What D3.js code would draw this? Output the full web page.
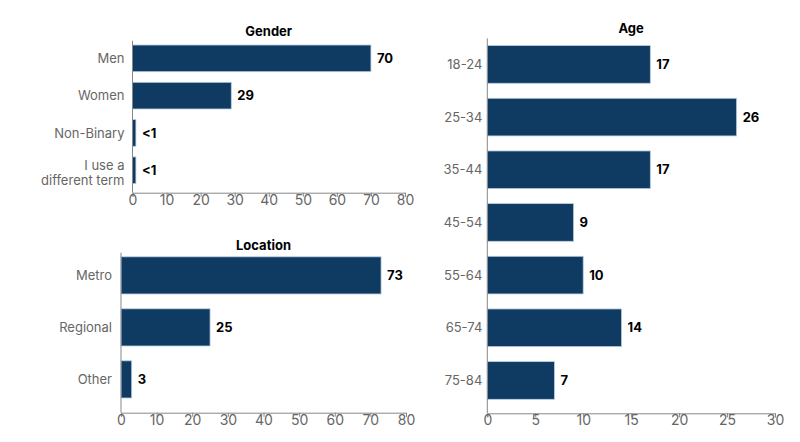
<!DOCTYPE html>
<html>
<head>
<meta charset="utf-8">
<script src="https://cdn.jsdelivr.net/npm/d3@7"></script>
<style>
  body { margin: 0; background: #fff; }
  svg { font-family: Inter, "Noto Sans", sans-serif; }
  .tick text { fill: #666; }
</style>
</head>
<body>
<svg width="800" height="442"></svg>
<script>
// gender panel
let genderCats = ["Men", "Women", "Non-Binary", "I use a\ndifferent term"];
let genderVals = [70, 29, 1, 1];
let genderLabels = ["70", "29", "<1", "<1"];
let genderTicks = [0, 10, 20, 30, 40, 50, 60, 70, 80];

// location panel
let locationCats = ["Metro", "Regional", "Other"];
let locationVals = [73, 25, 3];
let locationLabels = ["73", "25", "3"];
let locationTicks = [0, 10, 20, 30, 40, 50, 60, 70, 80];

// age panel
let ageCats = ["18-24", "25-34", "35-44", "45-54", "55-64", "65-74", "75-84"];
let ageVals = [17, 26, 17, 9, 10, 14, 7];
let ageLabels = ["17", "26", "17", "9", "10", "14", "7"];
let ageTicks = [0, 5, 10, 15, 20, 25, 30];

let svg = d3.select("svg");

function panel(opt) {
    let x = d3.scaleLinear().domain([0, d3.max(opt.ticks)]).range([opt.x0, opt.x1]);
    let y = d3.scaleBand().domain(opt.cats).range(opt.band)
        .paddingInner(0.285).paddingOuter(0.1425);
    let g = svg.append("g");

    g.append("text")
        .attr("x", (opt.x0 + opt.x1) / 2)
        .attr("y", opt.titleY)
        .attr("text-anchor", "middle")
        .attr("font-size", 13)
        .attr("font-weight", "bold")
        .attr("fill", "#000")
        .text(opt.title);

    g.selectAll("rect")
        .data(opt.vals)
        .join("rect")
        .attr("x", x(0))
        .attr("y", (d, i) => y(opt.cats[i]))
        .attr("width", d => x(d) - x(0))
        .attr("height", y.bandwidth())
        .attr("fill", "#0f3a61")
        .attr("stroke", "#b9cde0")
        .attr("stroke-width", 0.8);

    g.selectAll("text.val")
        .data(opt.vals)
        .join("text")
        .attr("class", "val")
        .attr("x", d => x(d) + 6)
        .attr("y", (d, i) => y(opt.cats[i]) + y.bandwidth() / 2)
        .attr("dy", "0.35em")
        .attr("font-size", 13)
        .attr("font-weight", "bold")
        .attr("fill", "#000")
        .text((d, i) => opt.labels[i]);

    // category labels, multi-line ones split on \n
    let cl = g.selectAll("text.cat")
        .data(opt.cats)
        .join("text")
        .attr("class", "cat")
        .attr("x", opt.x0 - opt.gap)
        .attr("y", d => y(d) + y.bandwidth() / 2)
        .attr("text-anchor", "end")
        .attr("font-size", 13)
        .attr("fill", "#666");
    cl.each(function (d) {
        let lines = d.split("\n");
        let t = d3.select(this);
        lines.forEach(function (ln, k) {
            t.append("tspan")
                .attr("x", opt.x0 - opt.gap)
                .attr("dy", k === 0 ? (lines.length > 1 ? "-0.02em" : "0.35em") : "1.18em")
                .text(ln);
        });
    });

    // y axis line
    g.append("line")
        .attr("x1", x(0)).attr("x2", x(0))
        .attr("y1", opt.y0).attr("y2", opt.y1)
        .attr("stroke", "#888");

    let ax = g.append("g")
        .attr("transform", "translate(0," + opt.y1 + ")")
        .call(d3.axisBottom(x).tickValues(opt.ticks).tickSize(4).tickPadding(-2));
    ax.select(".domain").attr("stroke", "#888");
    ax.selectAll(".tick line").attr("stroke", "#888");
    ax.selectAll(".tick text").attr("font-size", 14).attr("font-family", "Inter, sans-serif");
}

panel({ title: "Gender", cats: genderCats, vals: genderVals, labels: genderLabels, ticks: genderTicks,
    x0: 132.5, x1: 405, y0: 40.7, y1: 192.7, band: [39.7, 188.9], titleY: 35.5, gap: 8 });
panel({ title: "Location", cats: locationCats, vals: locationVals, labels: locationLabels, ticks: locationTicks,
    x0: 121, x1: 406, y0: 252.7, y1: 412.7, band: [249.4, 405.4], titleY: 249.5, gap: 9 });
panel({ title: "Age", cats: ageCats, vals: ageVals, labels: ageLabels, ticks: ageTicks,
    x0: 487.3, x1: 775, y0: 38.3, y1: 413.3, band: [38.1, 406.8], titleY: 33, gap: 5 });
</script>
</body>
</html>
